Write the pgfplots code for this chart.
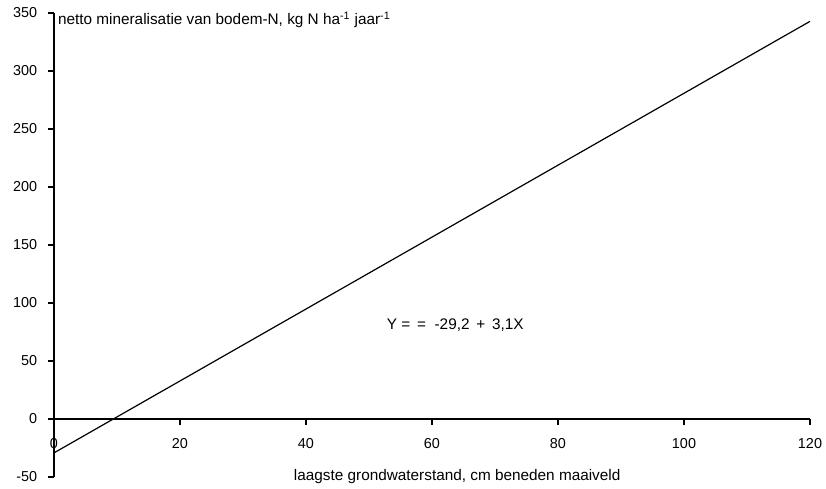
\documentclass[border=0pt]{standalone}
\usepackage{fontspec}
\setmainfont{Liberation Sans}
\usepackage{pgfplots}
\pgfplotsset{compat=1.18}

\begin{document}
\begin{tikzpicture}
\begin{axis}[
  at={(0,0)}, anchor=south west,
  scale only axis,
  width=567pt, height=348pt,
  xmin=0, xmax=120,
  ymin=-50, ymax=350,
  axis x line=middle,
  axis y line=left,
  axis line style={-, line width=1.1pt},
  hide obscured x ticks=false,
  hide obscured y ticks=false,
  xtick={0,20,...,120},
  ytick={-50,0,50,...,350},
  yticklabels={-50,0,50,100,150,200,250,300,350},
  xticklabels={0,20,40,60,80,100,120},
  tick style={black, line width=1.1pt},
  major tick length=4.5pt,
  xtick align=outside,
  ytick align=outside,
  font=\fontsize{11.5}{13}\selectfont,
  tick label style={font=\fontsize{10.8}{12}\selectfont},
  ticklabel style={inner sep=0pt},
  xticklabel style={anchor=center, yshift=-14pt},
  yticklabel style={anchor=east, xshift=-8pt},
  clip=false,
]
\addplot[black, line width=0.9pt] coordinates {(0,-29.2) (120,342.8)};
\node[anchor=west, inner sep=0pt] at (axis cs:0.6,344)
  {netto mineralisatie van bodem-N, kg N ha\textsuperscript{-1} jaar\textsuperscript{-1}};
\node[anchor=center, inner sep=0pt] at (axis cs:64,-50)
  {laagste grondwaterstand, cm beneden maaiveld};
\node[anchor=center, inner sep=0pt] at (axis cs:63.7,81)
  {Y = \,= \ -29,2 \,+ \,3,1X};
\end{axis}
\pgfresetboundingbox
\useasboundingbox (-40.5pt,-9pt) rectangle (579pt,357.75pt);
\end{tikzpicture}
\end{document}
